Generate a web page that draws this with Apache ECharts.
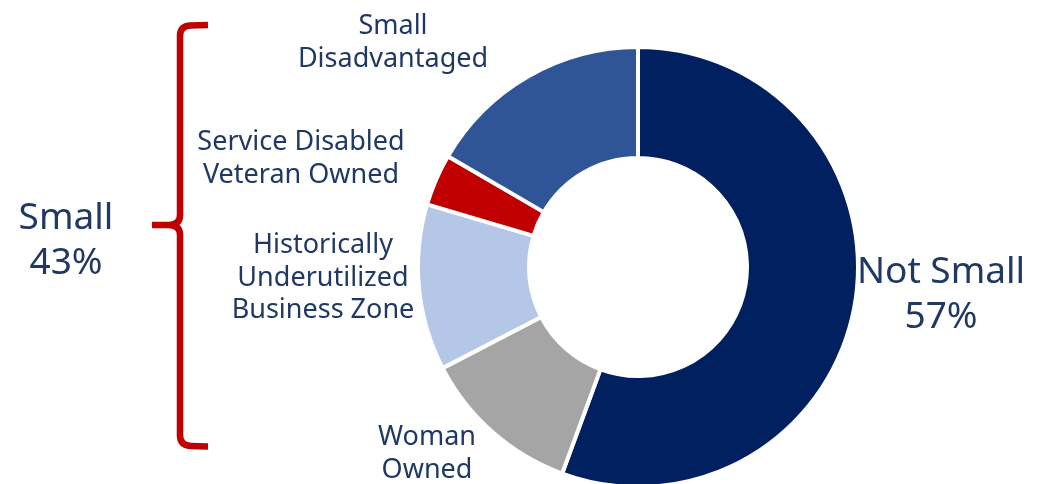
<!DOCTYPE html>
<html>
<head>
<meta charset="utf-8">
<script src="https://cdn.jsdelivr.net/npm/echarts@6/dist/echarts.min.js"></script>
<style>
html,body{margin:0;padding:0;background:#fff;}
#chart{width:1055px;height:484px;}
</style>
</head>
<body>
<div id="chart"></div>
<script>
// Data
const categories = ['Not Small', 'Woman Owned', 'Historically Underutilized Business Zone', 'Service Disabled Veteran Owned', 'Small Disadvantaged'];
const values = [55.6, 11.8, 12.2, 3.8, 16.6];
const labelTexts = ['Not Small\n57%', 'Woman\nOwned', 'Historically\nUnderutilized\nBusiness Zone', 'Service Disabled\nVeteran Owned', 'Small\nDisadvantaged'];
const groupLabel = 'Small\n43%';

const colors = ['#002060', '#A5A5A5', '#B4C7E7', '#C00000', '#2F5597'];
const textColor = '#1F3864';
const labelPos = [[941, 295], [427, 454], [323, 278], [301, 159], [393, 43]];
const bigIdx = 0;

const braceStyle = {stroke: '#C00000', lineWidth: 6.5, fill: null, lineCap: 'butt'};
function curve(x1, y1, cx, cy, x2, y2) {
  return {type: 'bezierCurve', shape: {x1: x1, y1: y1, x2: x2, y2: y2, cpx1: cx, cpy1: cy}, style: braceStyle};
}
function seg(x1, y1, x2, y2) {
  return {type: 'line', shape: {x1: x1, y1: y1, x2: x2, y2: y2}, style: braceStyle};
}

const chart = echarts.init(document.getElementById('chart'), null, {renderer: 'canvas'});
chart.setOption({
  animation: false,
  backgroundColor: '#fff',
  series: [{
    type: 'pie',
    center: [638, 267],
    radius: [109, 220],
    startAngle: 90,
    clockwise: true,
    avoidLabelOverlap: false,
    itemStyle: {borderColor: '#fff', borderWidth: 4},
    label: {
      show: true,
      position: 'outside',
      color: textColor,
      fontFamily: 'Noto Sans',
      fontSize: 27,
      lineHeight: 32.5,
      align: 'center',
      formatter: p => labelTexts[p.dataIndex]
    },
    labelLine: {show: false},
    labelLayout: p => ({
      x: labelPos[p.dataIndex][0],
      y: labelPos[p.dataIndex][1],
      align: 'center',
      verticalAlign: 'middle'
    }),
    emphasis: {disabled: true},
    data: categories.map((c, i) => ({
      name: c,
      value: values[i],
      itemStyle: {color: colors[i]},
      label: i === bigIdx ? {fontSize: 37, lineHeight: 45} : {}
    }))
  }],
  graphic: [
    seg(208, 25, 190, 25.5),
    curve(190.5, 25.5, 180, 26, 180, 36),
    seg(180, 35.5, 180, 216),
    curve(180, 215.5, 180, 224, 170, 225),
    seg(170.5, 225, 152, 225),
    curve(170, 225, 180, 226, 180, 234.5),
    seg(180, 234, 180, 436),
    curve(180, 435.5, 180, 445, 190.5, 446),
    seg(190, 446, 208, 446.5),
    {
      type: 'text',
      x: 66, y: 241,
      style: {
        text: groupLabel, fill: textColor, font: '37px "Noto Sans"',
        lineHeight: 45, align: 'center', verticalAlign: 'middle'
      }
    }
  ]
});
</script>
</body>
</html>
